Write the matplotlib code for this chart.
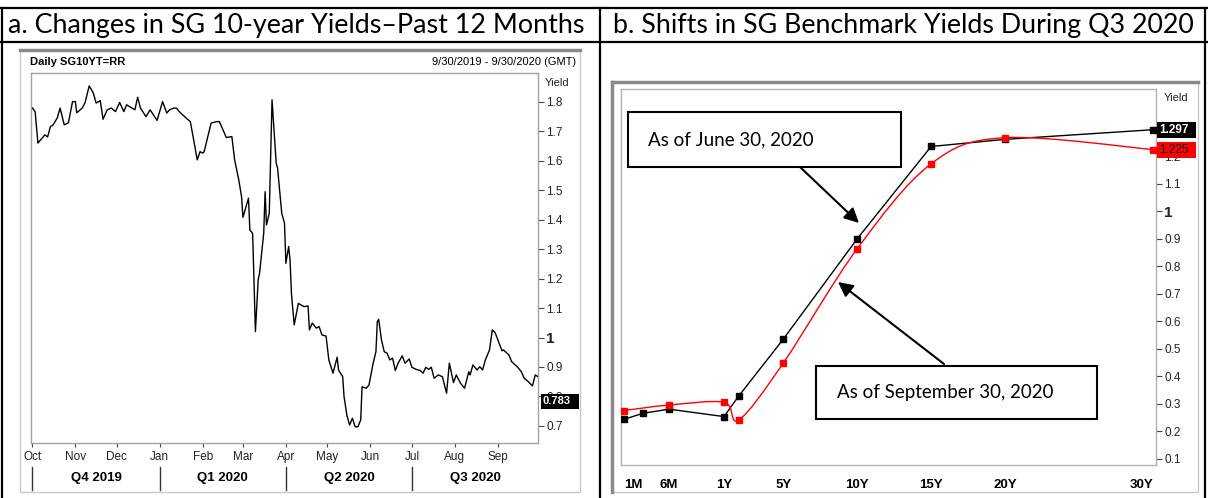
import matplotlib
matplotlib.use("Agg")
import matplotlib.pyplot as plt
import matplotlib.dates as mdates
import numpy as np
import pandas as pd
from matplotlib.lines import Line2D
from matplotlib.patches import Rectangle, PathPatch, FancyArrowPatch
from matplotlib.path import Path

W, H = 1208, 498

# ---- panel a: daily SG10YT=RR, days after 2019-09-30 ----
START = pd.Timestamp("2019-09-30")
days_a = [
    0, 1, 3, 5, 8, 10, 12, 14, 16, 19,
    21, 24, 27, 30, 32, 33, 37, 39, 42, 45,
    47, 50, 52, 55, 58, 61, 64, 67, 69, 75,
    77, 79, 83, 86, 91, 95, 98, 100, 103, 105,
    107, 112, 115, 117, 120, 122, 124, 125, 130, 134,
    136, 141, 145, 147, 150, 152, 153, 157, 158, 160,
    162, 164, 165, 168, 169, 170, 172, 174, 177, 178,
    181, 183, 184, 186, 187, 188, 190, 193, 197, 200,
    201, 203, 206, 208, 210, 213, 215, 218, 221, 222,
    225, 226, 228, 230, 232, 234, 236, 238, 239, 242,
    244, 247, 249, 250, 251, 253, 255, 257, 259, 261,
    263, 265, 268, 270, 273, 275, 278, 281, 283, 285,
    287, 289, 291, 294, 297, 300, 302, 305, 307, 310,
    313, 316, 317, 319, 322, 324, 326, 328, 331, 333,
    335, 337, 340, 341, 345, 347, 351, 354, 356, 359,
    362, 364, 366,
]
yield_a = [
    1.773, 1.780, 1.766, 1.660, 1.677, 1.688, 1.681, 1.716, 1.722, 1.746,
    1.779, 1.722, 1.729, 1.801, 1.801, 1.763, 1.779, 1.797, 1.854, 1.830,
    1.796, 1.804, 1.741, 1.773, 1.779, 1.767, 1.798, 1.767, 1.790, 1.773,
    1.816, 1.779, 1.750, 1.773, 1.737, 1.801, 1.762, 1.773, 1.779, 1.779,
    1.767, 1.745, 1.733, 1.682, 1.603, 1.631, 1.626, 1.631, 1.728, 1.733,
    1.733, 1.679, 1.682, 1.603, 1.535, 1.478, 1.408, 1.473, 1.365, 1.354,
    1.020, 1.196, 1.218, 1.354, 1.495, 1.382, 1.422, 1.807, 1.592, 1.575,
    1.422, 1.388, 1.252, 1.309, 1.264, 1.150, 1.043, 1.116, 1.105, 1.107,
    1.026, 1.049, 1.032, 1.037, 1.009, 1.005, 0.924, 0.879, 0.933, 0.890,
    0.867, 0.799, 0.737, 0.703, 0.726, 0.697, 0.697, 0.720, 0.833, 0.828,
    0.839, 0.913, 0.952, 1.054, 1.062, 0.992, 0.952, 0.947, 0.924, 0.930,
    0.888, 0.913, 0.938, 0.913, 0.927, 0.899, 0.892, 0.888, 0.879, 0.899,
    0.892, 0.899, 0.862, 0.873, 0.867, 0.811, 0.913, 0.847, 0.873, 0.845,
    0.828, 0.884, 0.873, 0.907, 0.890, 0.901, 0.890, 0.924, 0.958, 1.026,
    1.017, 0.992, 0.955, 0.958, 0.941, 0.918, 0.901, 0.884, 0.862, 0.850,
    0.836, 0.873, 0.867,
]
last_a = 0.783
yticks_a = [0.7, 0.8, 0.9, 1.0, 1.1, 1.2, 1.3, 1.4, 1.5, 1.6, 1.7, 1.8]
quarters = ["Q4 2019", "Q1 2020", "Q2 2020", "Q3 2020"]
quarter_starts = ["2019-10-01", "2020-01-01", "2020-04-01", "2020-07-01", "2020-10-01"]

# ---- panel b: SG benchmark curve ----
tenors = ["1M", "3M", "6M", "1Y", "2Y", "5Y", "10Y", "15Y", "20Y", "30Y"]
tenor_years = [1 / 12, 0.25, 0.5, 1, 2, 5, 10, 15, 20, 30]
yield_jun30 = [0.244, 0.266, 0.281, 0.254, 0.329, 0.535, 0.900, 1.236, 1.262, 1.297]
yield_sep30 = [0.276, np.nan, 0.296, 0.306, 0.242, 0.448, 0.864, 1.173, 1.268, 1.225]
labelled_tenors = ["1M", "6M", "1Y", "5Y", "10Y", "15Y", "20Y", "30Y"]
yticks_b = [0.1, 0.2, 0.3, 0.4, 0.5, 0.6, 0.7, 0.8, 0.9, 1.0, 1.1, 1.2, 1.3]
last_jun30, last_sep30 = 1.297, 1.225

# the tenor axis is stretched below one year
KNOT_YEARS = [1 / 12, 0.25, 0.5, 1, 30]
KNOT_POS = [0, 19, 45, 100, 529]


def tenor_pos(years):
    return np.interp(years, KNOT_YEARS, KNOT_POS)


def frac(x0, y0, x1, y1):
    return [x0 / W, 1 - y1 / H, (x1 - x0) / W, (y1 - y0) / H]


def fx(x):
    return x / W


def fy(y):
    return 1 - y / H


NARROW = ["Liberation Sans Narrow", "Liberation Sans", "DejaVu Sans"]
HEAD = ["Lato", "DejaVu Sans"]

fig = plt.figure(figsize=(W / 100, H / 100), dpi=100)
fig.patch.set_facecolor("white")

# table grid
for y in (8, 42):
    fig.add_artist(Line2D([0, 1], [fy(y), fy(y)], transform=fig.transFigure, color="black", lw=1.6))
for x in (2, 600, 1205):
    fig.add_artist(Line2D([fx(x), fx(x)], [fy(8), 0], transform=fig.transFigure, color="black", lw=1.6))
fig.text(fx(8), fy(25), "a. Changes in SG 10-year Yields\u2013Past 12 Months", family=HEAD,
         fontsize=19.4, va="center", ha="left")
fig.text(fx(613), fy(25), "b. Shifts in SG Benchmark Yields During Q3 2020", family=HEAD,
         fontsize=19.3, va="center", ha="left")

# panel frames (behind the axes)
fig.add_artist(Rectangle((fx(20), fy(492)), fx(560), 442 / H, transform=fig.transFigure,
                         facecolor="white", edgecolor="#c8c8c8", lw=1, zorder=-3))
fig.add_artist(Line2D([fx(20), fx(580)], [fy(50), fy(50)], transform=fig.transFigure,
                      color="#8a8a8a", lw=2.5, zorder=-2))
fig.add_artist(Rectangle((fx(612), fy(492)), fx(586), 410 / H, transform=fig.transFigure,
                         facecolor="white", edgecolor="#c8c8c8", lw=1, zorder=-3))
fig.add_artist(Line2D([fx(612), fx(1198)], [fy(82), fy(82)], transform=fig.transFigure,
                      color="#8a8a8a", lw=2.5, zorder=-2))
fig.add_artist(Line2D([fx(612), fx(612)], [fy(82), fy(492)], transform=fig.transFigure,
                      color="#8a8a8a", lw=2.5, zorder=-2))

# ---------------- panel a ----------------
axa = fig.add_axes(frac(31, 73, 538, 443))
dates_a = START + pd.to_timedelta(days_a, unit="D")
axa.plot(dates_a, yield_a, color="black", lw=1)
axa.set_xlim(START, START + pd.Timedelta(days=366))
axa.set_ylim(0.642, 1.898)
axa.yaxis.tick_right()
axa.set_yticks(yticks_a)
axa.set_yticklabels([f"{v:g}" for v in yticks_a])
for lab, v in zip(axa.get_yticklabels(), yticks_a):
    lab.set_family(NARROW)
    lab.set_fontsize(11 if v == 1.0 else 8.5)
    if v == 1.0:
        lab.set_fontweight("bold")
axa.tick_params(axis="y", direction="out", length=4, width=0.8, color="#444444", pad=2, labelcolor="#222222")
axa.xaxis.set_major_locator(mdates.MonthLocator())
axa.xaxis.set_major_formatter(mdates.DateFormatter("%b"))
axa.tick_params(axis="x", direction="out", length=3, width=0.8, color="#444444", pad=3, labelcolor="#222222")
for lab in axa.get_xticklabels():
    lab.set_family(NARROW)
    lab.set_fontsize(8.5)
for s in axa.spines.values():
    s.set_color("#a0a0b0")
    s.set_linewidth(1)

fig.text(fx(30), fy(62), "Daily SG10YT=RR", family=NARROW, fontsize=8, fontweight="bold", va="center")
fig.text(fx(576), fy(62), "9/30/2019 - 9/30/2020 (GMT)", family=NARROW, fontsize=8, va="center", ha="right")
fig.text(fx(557), fy(83), "Yield", family=NARROW, fontsize=8, va="center", ha="center", color="#222222")

# last value tag
box_h = 15 / 294.5
axa.add_patch(Rectangle((1.005, last_a - box_h / 2), 0.075, box_h,
                        transform=axa.get_yaxis_transform(), facecolor="black", clip_on=False, zorder=5))
axa.text(1.008, last_a, f"{last_a:.3f}", transform=axa.get_yaxis_transform(), color="white",
         family=NARROW, fontsize=8, fontweight="bold", va="center", ha="left", zorder=6)

# quarter band
for d in quarter_starts[:-1]:
    xd = mdates.date2num(pd.Timestamp(d))
    axa.plot([xd, xd], [-0.065, -0.128], transform=axa.get_xaxis_transform(), color="#333333",
             lw=1, clip_on=False)
for q, a, b in zip(quarters, quarter_starts[:-1], quarter_starts[1:]):
    mid = (mdates.date2num(pd.Timestamp(a)) + mdates.date2num(pd.Timestamp(b))) / 2
    axa.text(min(mid, mdates.date2num(pd.Timestamp("2020-08-16"))), -0.095, q,
             transform=axa.get_xaxis_transform(),
             family=NARROW, fontsize=9.5, fontweight="bold", ha="center", va="center")

# ---------------- panel b ----------------
axb = fig.add_axes(frac(621, 89, 1156, 465))
pos = tenor_pos(tenor_years)
axb.plot(pos, yield_jun30, color="black", lw=1, marker="s", ms=5, zorder=3)

# smooth red curve (Catmull-Rom through the Sep 30 points)
ok = ~np.isnan(np.array(yield_sep30))
px = pos[ok]
py = np.array(yield_sep30)[ok]
pts = np.column_stack([px, py])
verts = [pts[0]]
codes = [Path.MOVETO]
for i in range(len(pts) - 1):
    p0 = pts[max(i - 1, 0)]
    p1, p2 = pts[i], pts[i + 1]
    p3 = pts[min(i + 2, len(pts) - 1)]
    verts += [p1 + (p2 - p0) / 6, p2 - (p3 - p1) / 6, p2]
    codes += [Path.CURVE4] * 3
axb.add_patch(PathPatch(Path(verts, codes), facecolor="none", edgecolor="red", lw=1, zorder=4))
axb.plot(px, py, linestyle="none", color="red", marker="s", ms=5, zorder=5)

axb.set_xlim(-3, 532)
axb.set_ylim(0.078, 1.445)
axb.yaxis.tick_right()
axb.set_yticks(yticks_b)
axb.set_yticklabels([f"{v:g}" for v in yticks_b])
for lab, v in zip(axb.get_yticklabels(), yticks_b):
    lab.set_family(NARROW)
    lab.set_fontsize(11 if v == 1.0 else 8.5)
    if v == 1.0:
        lab.set_fontweight("bold")
axb.tick_params(axis="y", direction="out", length=4, width=0.8, color="#444444", pad=2, labelcolor="#222222")
lab_idx = [tenors.index(t) for t in labelled_tenors]
axb.set_xticks(pos[lab_idx])
axb.set_xticklabels(labelled_tenors)
axb.tick_params(axis="x", length=0, pad=10)
for lab, t in zip(axb.get_xticklabels(), labelled_tenors):
    lab.set_family(NARROW)
    lab.set_fontsize(9.5)
    lab.set_fontweight("bold")
    if t == "1M":
        lab.set_ha("left")
    elif t == "30Y":
        lab.set_ha("right")
for s in axb.spines.values():
    s.set_color("#b0b0bc")
    s.set_linewidth(1)
fig.text(fx(1176), fy(98), "Yield", family=NARROW, fontsize=8, va="center", ha="center", color="#222222")

# end-of-curve tags
box_h = 16 / 275
for val, fc, tc, wt in ((last_jun30, "black", "white", "bold"), (last_sep30, "red", "black", "normal")):
    axb.add_patch(Rectangle((1.002, val - box_h / 2), 0.072, box_h, transform=axb.get_yaxis_transform(),
                            facecolor=fc, clip_on=False, zorder=6))
    axb.text(1.006, val, f"{val:.3f}", transform=axb.get_yaxis_transform(), color=tc,
             family=NARROW, fontsize=8.5, fontweight=wt, va="center", ha="left", zorder=7)

# callout boxes
for (x0, y0, x1, y1), txt, tx in (((628, 112, 901, 167), "As of June 30, 2020", 648),
                                  ((816, 366, 1097, 419), "As of September 30, 2020", 837)):
    fig.add_artist(Rectangle((fx(x0), fy(y1)), fx(x1 - x0), (y1 - y0) / H, transform=fig.transFigure,
                             facecolor="white", edgecolor="black", lw=1.5, zorder=10))
    fig.text(fx(tx), fy((y0 + y1) / 2), txt, family=HEAD, fontsize=13.5, va="center", ha="left", zorder=11)

for (xa, ya), (xb, yb) in (((800, 167), (859, 223)), ((944, 364), (838, 282))):
    fig.add_artist(FancyArrowPatch((fx(xa), fy(ya)), (fx(xb), fy(yb)), transform=fig.transFigure,
                                   arrowstyle="-|>", mutation_scale=22, lw=1.5, color="black",
                                   shrinkA=0, shrinkB=0, zorder=10))

fig.savefig("out.png", dpi=100, facecolor="white")
